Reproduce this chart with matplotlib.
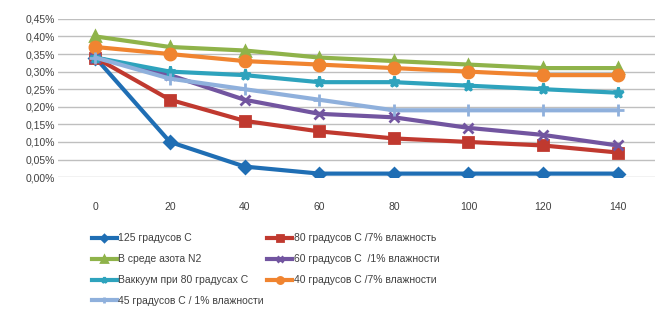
import numpy as np
import matplotlib
matplotlib.use('Agg')
import matplotlib.pyplot as plt
from matplotlib.ticker import FuncFormatter

plt.rcParams['font.family'] = ['Liberation Sans', 'DejaVu Sans']

# Время выдержки (категории оси X)
times = [0, 20, 40, 60, 80, 100, 120, 140]

# Содержание влаги, %
s_125 = [0.34, 0.10, 0.03, 0.01, 0.01, 0.01, 0.01, 0.01]
s_80_7 = [0.34, 0.22, 0.16, 0.13, 0.11, 0.10, 0.09, 0.07]
s_n2 = [0.40, 0.37, 0.36, 0.34, 0.33, 0.32, 0.31, 0.31]
s_60_1 = [0.34, 0.29, 0.22, 0.18, 0.17, 0.14, 0.12, 0.09]
s_vac = [0.34, 0.30, 0.29, 0.27, 0.27, 0.26, 0.25, 0.24]
s_40_7 = [0.37, 0.35, 0.33, 0.32, 0.31, 0.30, 0.29, 0.29]
s_45_1 = [0.34, 0.28, 0.25, 0.22, 0.19, 0.19, 0.19, 0.19]

labels = ["125 градусов С", "80 градусов С /7% влажность",
          "В среде азота N2", "60 градусов С  /1% влажности",
          "Ваккуум при 80 градусах С", "40 градусов С /7% влажности",
          "45 градусов С / 1% влажности"]
series = [s_125, s_80_7, s_n2, s_60_1, s_vac, s_40_7, s_45_1]
colors = ['#1f6eb4', '#c0392f', '#8fb34a', '#7255a0', '#2ea3bd', '#f08430', '#8fb0dc']
markers = ['D', 's', '^', 'x', '*', 'o', '+']
msizes = [6, 7, 7, 7, 8, 8, 8]

fig = plt.figure(figsize=(6.59, 3.25), dpi=100)
ax = fig.add_axes([0.088, 0.455, 0.906, 0.487])

x = np.arange(len(times))
lines = []
for vals, lab, c, m, ms in zip(series, labels, colors, markers, msizes):
    ln, = ax.plot(x, vals, color=c, lw=3, marker=m, ms=ms, mew=2,
                  mec=c, mfc=c, label=lab)
    lines.append(ln)

ax.set_xlim(-0.5, len(times) - 0.5)
ax.set_ylim(0, 0.45)
ax.set_yticks(np.arange(0, 0.451, 0.05))
ax.yaxis.set_major_formatter(FuncFormatter(lambda v, p: f"{v:.2f}%".replace('.', ',')))
ax.set_xticks(x)
ax.set_xticklabels([str(t) for t in times])
ax.tick_params(axis='both', length=0, labelsize=7.5, colors='#404040')
ax.tick_params(axis='x', pad=18)
ax.tick_params(axis='y', pad=2)
ax.grid(axis='y', color='#bfbfbf', lw=1)
ax.set_axisbelow(True)
for sp in ax.spines.values():
    sp.set_visible(False)

# Легенда: порядок по строкам, как в две колонки
order = [0, 2, 4, 6, 1, 3, 5]
fig.legend([lines[i] for i in order], [labels[i] for i in order],
           ncol=2, loc='upper left', bbox_to_anchor=(0.133, 0.295),
           frameon=False, fontsize=7.5, handlelength=2.4, handletextpad=0.15,
           columnspacing=0.3, labelspacing=1.05, borderaxespad=0,
           markerscale=0.55, labelcolor='#404040')

fig.savefig('out.png', dpi=100)
